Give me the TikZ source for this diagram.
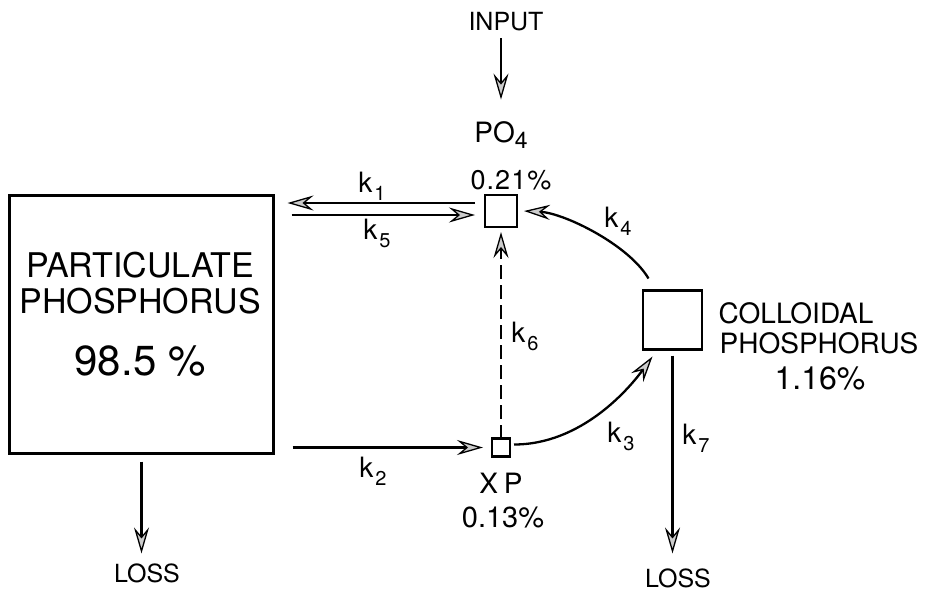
\documentclass[tikz,border=0pt]{standalone}
\usepackage{fontspec}
\setmainfont{TeX Gyre Heros}
\usetikzlibrary{arrows.meta}
\newcommand\klab[1]{k\kern2pt\raisebox{-8pt}{\fontsize{20}{20}\selectfont #1}}
\newcommand\fs[1]{\fontsize{#1}{#1}\selectfont}
\begin{document}
\begin{tikzpicture}[x=1pt,y=-1pt,
  box/.style={draw, line width=2.8pt, inner sep=0pt, outer sep=0pt},
  smallbox/.style={draw, line width=2.4pt, inner sep=0pt, outer sep=0pt},
  txt/.style={inner sep=0pt, outer sep=0pt},
  kt/.style={inner sep=0pt, outer sep=0pt, font=\fs{28}},
  arr/.style={line width=2.3pt, -{Stealth[length=26pt,width=15pt,inset=9pt,fill=gray!40,line width=1.3pt]}}
]
\useasboundingbox (0,0) rectangle (926,592);

% compartments
\node[box, minimum width=264, minimum height=258] (pp) at (141.5,324.5) {};
\node[smallbox, minimum size=32] (po4) at (501,211) {};
\node[smallbox, minimum size=18] (xp) at (501,447.5) {};
\node[box, minimum size=59] (cp) at (672.5,320) {};

% texts
\node[txt, font=\fs{34}] (ppa) at (140,265) {PARTICULATE};
\node[txt, font=\fs{34}] (ppb) at (140,301) {PHOSPHORUS};
\node[txt, font=\fs{42}] (ppc) at (140,361) {98.5 \%};
\node[txt, font=\fs{25}] (input) at (506,22) {INPUT};
\node[txt, font=\fs{28}] (polab) at (501,135) {PO\raisebox{-6pt}{\fs{23}4}};
\node[txt, font=\fs{27}] (pct21) at (511,180) {\addfontfeatures{LetterSpace=4}0.21\%};
\node[txt, font=\fs{28}] (xplab) at (501,483) {X\hspace{6pt}P};
\node[txt, font=\fs{29}] (pct13) at (503,518) {0.13\%};
\node[txt, font=\fs{28}] (cpa) at (796,313) {COLLOIDAL};
\node[txt, font=\fs{28}] (cpb) at (819,343) {PHOSPHORUS};
\node[txt, font=\fs{32}] (cpc) at (820,378) {1.16\%};
\node[txt, font=\fs{25}] (loss1) at (147,573) {LOSS};
\node[txt, font=\fs{25}] (loss2) at (678,578) {LOSS};

% rate labels
\node[kt] (k1) at (372,186) {\klab{1}};
\node[kt] (k5) at (377,233) {\klab{5}};
\node[kt] (k2) at (373,471) {\klab{2}};
\node[kt] (k6) at (525,336) {\klab{6}};
\node[kt] (k3) at (621,436) {\klab{3}};
\node[kt] (k7) at (696,438) {\klab{7}};
\node[kt] (k4) at (618,221) {\klab{4}};

% connectors
\draw[arr, shorten <=7pt, shorten >=22pt] (po4 |- input.south) -- (po4 |- polab.north);
\coordinate (a1) at ([shift={(-10,-8)}]po4.west);
\coordinate (a5) at ([shift={(-10,4)}]po4.west);
\coordinate (a2) at ([shift={(-9,0)}]xp.west);
\draw[arr, shorten >=14pt] (a1) -- (pp.east |- a1);
\draw[arr, shorten <=18pt] (pp.east |- a5) -- (a5);
\draw[arr, shorten <=19pt] (pp.east |- a2) -- (a2);
\draw[arr, line width=1.8pt, dash pattern=on 14pt off 6pt] (xp.north) -- ([shift={(0,5)}]po4.south);
\draw[arr] ([shift={(4,-3)}]xp.east) .. controls +(67,0) and +(-24,33) .. ([shift={(-20,7)}]cp.south);
\draw[arr] ([shift={(-24,-12)}]cp.north) .. controls +(-20,-34) and +(40,2) .. ([shift={(7,0)}]po4.east);
\draw[arr, shorten <=6pt, shorten >=15pt] (cp.south) -- (cp.south |- loss2.north);
\draw[arr, shorten <=8pt, shorten >=10pt] (pp.south) -- (pp.south |- loss1.north);
\end{tikzpicture}
\end{document}
